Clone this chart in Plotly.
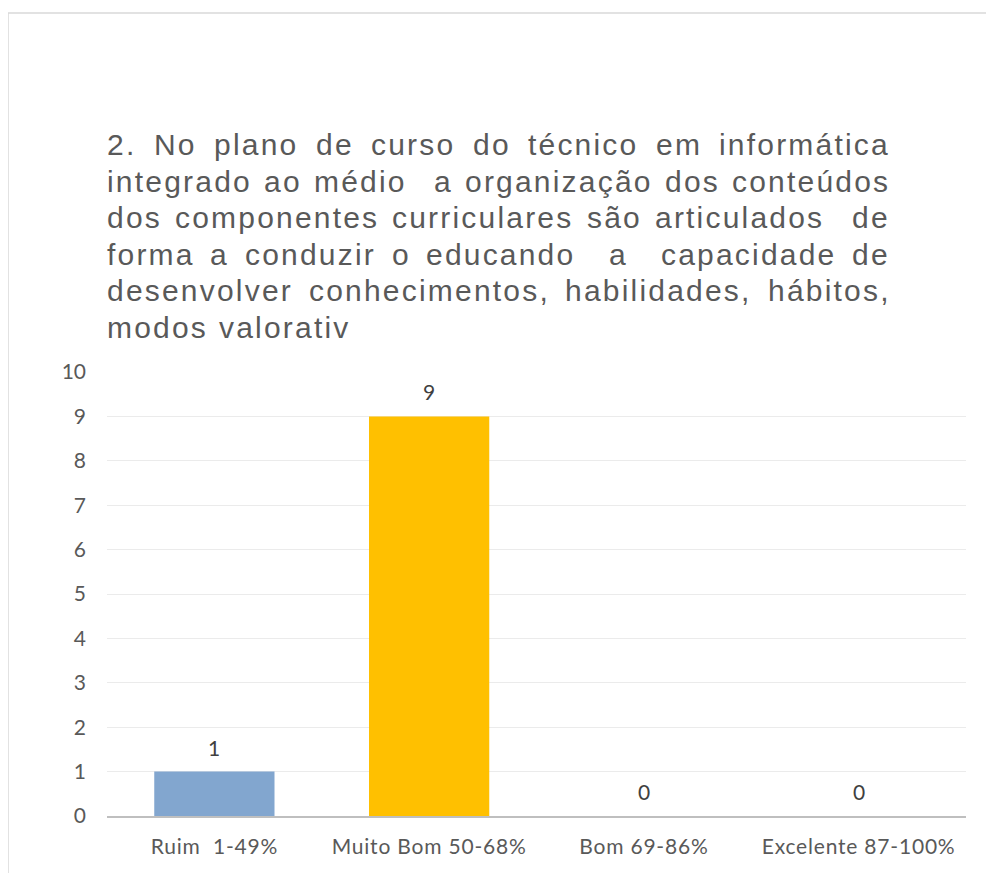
import plotly.graph_objects as go

# dados do gráfico
categories = ["Ruim \u00a01-49%", "Muito Bom 50-68%", "Bom 69-86%", "Excelente 87-100%"]
counts = [1, 9, 0, 0]
y_ticks = [0, 1, 2, 3, 4, 5, 6, 7, 8, 9, 10]

title_lines = [
    "2. No plano de curso do técnico em informática",
    "integrado ao médio  a organização dos conteúdos",
    "dos componentes curriculares são articulados  de",
    "forma a conduzir o educando  a  capacidade de",
    "desenvolver conhecimentos, habilidades, hábitos,",
    "modos valorativ",
]

bar_colors = ["#82A6CF", "#FFC000", "#82A6CF", "#82A6CF"]

# a página tem margem de 8px no body; coordenadas abaixo são da tela
OFF = 8
W, H = 978, 865
plot_x0, plot_x1 = 107 - OFF, 966 - OFF
plot_y0, plot_y1 = 372 - OFF, 816 - OFF
L, R, T, B = plot_x0, W - plot_x1, plot_y0, H - plot_y1
plot_w = plot_x1 - plot_x0
plot_h = plot_y1 - plot_y0


def px_x(px):
    return (px - OFF - plot_x0) / plot_w


def px_y(py):
    return (plot_y1 - (py - OFF)) / plot_h


# larguras aproximadas (Arial, por 1000 em) para justificar o título
ARIAL = {
    "a": 556, "b": 556, "c": 500, "d": 556, "e": 556, "f": 278, "g": 556,
    "h": 556, "i": 222, "l": 222, "m": 833, "n": 556, "o": 556, "p": 556,
    "r": 333, "s": 500, "t": 278, "u": 556, "v": 500, "z": 500, "ç": 500,
    "é": 556, "á": 556, "ã": 556, "ú": 556, "N": 722, "2": 556, ".": 278,
    ",": 278,
}
TITLE_SIZE = 30
LETTER_SP = 2.2
SPACE_W = 278 * TITLE_SIZE / 1000 + LETTER_SP


def word_width(w):
    if not w:
        return 0
    return sum(ARIAL.get(c, 556) for c in w) * TITLE_SIZE / 1000 + LETTER_SP * (len(w) - 1)


title_left, title_right = 107, 888
first_baseline, line_step = 154.5, 36.5

annotations = []
for i, line in enumerate(title_lines):
    words = line.split(" ")
    n_sp = len(words) - 1
    total = sum(word_width(w) for w in words)
    if i < len(title_lines) - 1:
        gap = (title_right - title_left - total) / n_sp
    else:
        gap = SPACE_W + LETTER_SP
    x = title_left
    y = first_baseline + i * line_step - 10
    for w in words:
        if w:
            annotations.append(dict(
                text='<span style="letter-spacing:%.1fpx">%s</span>' % (LETTER_SP, w),
                xref="paper", yref="paper",
                x=px_x(x), y=px_y(y), xanchor="left", yanchor="middle",
                showarrow=False, borderpad=0, borderwidth=0,
                font=dict(family="Liberation Sans, Arial", size=TITLE_SIZE, color="#595959"),
            ))
        x += word_width(w) + gap

# rótulos de dados
for cat, val in zip(categories, counts):
    annotations.append(dict(
        text=str(val), x=cat, y=val, xref="x", yref="y",
        xanchor="center", yanchor="bottom", yshift=10, showarrow=False,
        font=dict(family="Lato", size=21, color="#404040"),
    ))

fig = go.Figure(go.Bar(
    x=categories,
    y=counts,
    marker=dict(color=bar_colors, line=dict(width=0)),
))

fig.update_layout(
    width=W,
    height=H,
    margin=dict(l=L, r=R, t=T, b=B),
    paper_bgcolor="white",
    plot_bgcolor="white",
    bargap=0.44,
    showlegend=False,
    annotations=annotations,
    shapes=[dict(
        type="rect", xref="paper", yref="paper",
        x0=px_x(8), x1=px_x(1010), y0=px_y(900), y1=px_y(13),
        line=dict(color="#D9D9D9", width=1.5), layer="below",
    )],
)
fig.update_xaxes(
    showline=True, linecolor="#BFBFBF", linewidth=2,
    ticks="", showgrid=False,
    tickvals=categories,
    ticktext=['<span style="letter-spacing:0.8px">%s</span>' % c for c in categories],
    tickfont=dict(family="Lato", size=21, color="#595959"),
    ticklabelstandoff=11,
)
fig.update_yaxes(
    range=[0, 10], tickvals=y_ticks, showline=False, zeroline=False,
    gridcolor="#EBEBEB", gridwidth=1, ticks="",
    tickfont=dict(family="Lato", size=21, color="#595959"),
    ticklabelstandoff=20,
)

fig.write_html("out.html")
